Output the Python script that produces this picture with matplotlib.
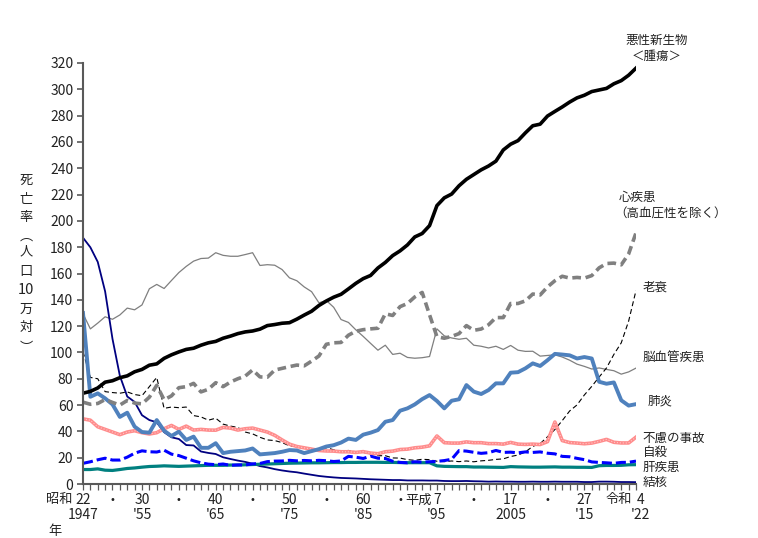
import numpy as np
import matplotlib
matplotlib.use("Agg")
import matplotlib.pyplot as plt

plt.rcParams['font.family'] = ['Noto Sans CJK JP', 'DejaVu Sans']

# 年（1947〜2022）
years = list(range(1947, 2023))

# 死亡率（人口10万対）
cancer = [69.0, 70.4, 73.0, 77.4, 78.5, 80.8, 82.2, 85.3, 87.1, 90.3,
          91.3, 95.5, 98.2, 100.4, 102.3, 103.2, 105.5, 107.3, 108.4, 110.8,
          112.4, 114.3, 115.6, 116.3, 117.7, 120.4, 121.2, 122.2, 122.6, 125.3,
          128.4, 131.3, 135.7, 139.1, 142.0, 144.2, 148.3, 152.5, 156.1, 158.5,
          164.2, 168.4, 173.6, 177.2, 181.7, 187.8, 190.4, 196.4, 211.6, 217.5,
          220.4, 226.7, 231.6, 235.2, 238.8, 241.7, 245.4, 253.9, 258.3, 261.0,
          266.9, 272.3, 273.5, 279.7, 283.2, 286.6, 290.3, 293.5, 295.5, 298.3,
          299.5, 300.7, 304.2, 306.6, 310.7, 316.1]
heart = [62.2, 60.6, 61.2, 64.2, 62.0, 60.0, 63.5, 61.5, 60.9, 66.0,
         75.0, 64.0, 67.0, 73.2, 74.0, 76.5, 70.0, 72.0, 77.0, 74.0,
         77.5, 80.0, 82.0, 86.7, 81.4, 81.2, 86.6, 87.9, 89.2, 90.4,
         89.8, 93.4, 97.3, 106.2, 107.3, 107.6, 113.1, 116.1, 117.3, 117.9,
         118.4, 129.4, 128.1, 134.8, 137.2, 142.2, 145.6, 128.6, 112.0, 110.8,
         112.2, 114.3, 120.4, 116.8, 117.8, 121.0, 126.5, 126.5, 137.2, 137.2,
         139.2, 144.4, 143.7, 149.8, 154.5, 157.9, 156.5, 157.0, 156.5, 158.4,
         164.3, 167.6, 167.9, 166.6, 174.9, 190.9]
senility = [100.6, 81.0, 80.0, 70.2, 69.5, 69.0, 70.0, 68.0, 67.1, 74.0,
            81.0, 57.5, 58.5, 58.0, 58.5, 52.0, 51.0, 48.5, 50.0, 45.5,
            44.0, 43.0, 39.5, 38.1, 35.5, 33.5, 33.0, 31.5, 29.0, 28.5,
            27.5, 27.0, 26.0, 27.6, 26.0, 25.0, 25.5, 24.5, 24.0, 23.0,
            21.5, 21.5, 19.8, 19.7, 18.5, 18.0, 18.8, 18.5, 17.3, 17.0,
            17.5, 17.0, 17.5, 16.9, 17.6, 18.0, 18.7, 19.1, 20.9, 22.0,
            24.4, 28.6, 30.7, 35.9, 41.4, 48.2, 55.5, 60.1, 67.7, 74.2,
            81.3, 88.2, 98.5, 107.3, 123.8, 147.1]
cerebro = [129.4, 117.9, 122.3, 127.1, 125.2, 128.5, 133.7, 132.4, 136.1, 148.4,
           151.7, 148.6, 154.7, 160.7, 165.4, 169.4, 171.4, 171.7, 175.8, 173.8,
           173.1, 173.1, 174.4, 175.8, 166.1, 166.7, 166.3, 163.0, 156.7, 154.5,
           149.8, 146.2, 137.7, 139.5, 134.3, 125.0, 122.8, 117.2, 112.2, 106.9,
           101.7, 105.5, 98.5, 99.4, 96.2, 95.6, 96.0, 96.9, 117.9, 112.6,
           111.0, 110.0, 110.8, 105.5, 104.7, 103.4, 104.7, 102.3, 105.3, 101.7,
           100.8, 100.9, 97.2, 97.7, 98.2, 96.5, 94.1, 91.1, 89.4, 87.4,
           88.2, 87.1, 86.1, 83.5, 85.2, 88.1]
pneumonia = [130.0, 66.3, 68.9, 65.1, 60.5, 51.0, 54.2, 43.6, 39.5, 39.0,
             48.6, 40.5, 36.5, 39.8, 33.5, 36.0, 27.5, 27.5, 31.0, 23.5,
             24.5, 25.0, 25.5, 27.0, 22.5, 23.0, 23.5, 24.5, 25.8, 25.5,
             23.5, 25.0, 26.5, 28.5, 29.5, 31.5, 34.5, 33.5, 37.5, 39.0,
             41.0, 47.3, 48.6, 55.7, 57.5, 60.5, 64.5, 67.6, 63.1, 57.5,
             63.3, 64.4, 75.2, 70.2, 68.4, 71.4, 76.5, 76.5, 84.6, 85.0,
             87.9, 91.7, 89.7, 94.1, 98.9, 98.4, 97.8, 95.4, 96.5, 95.4,
             77.7, 76.2, 77.2, 63.6, 59.6, 60.7]
accident = [49.5, 48.5, 43.5, 41.5, 39.5, 37.5, 39.5, 40.5, 39.0, 38.0,
            39.0, 42.0, 44.5, 41.5, 44.0, 41.0, 41.5, 41.0, 40.9, 43.0,
            42.5, 41.0, 42.0, 42.5, 41.0, 39.5, 37.0, 33.5, 30.3, 28.5,
            27.5, 26.5, 25.5, 25.1, 25.0, 24.5, 24.5, 24.0, 24.6, 23.5,
            23.0, 24.5, 25.0, 26.2, 26.5, 27.5, 28.0, 29.0, 36.5, 31.4,
            31.1, 31.1, 32.0, 31.4, 31.4, 30.7, 30.7, 30.3, 31.6, 30.3,
            30.1, 30.3, 30.0, 32.2, 47.1, 33.0, 31.5, 31.1, 30.6, 31.1,
            32.4, 33.9, 31.7, 31.2, 31.2, 35.6]
suicide = [15.7, 16.9, 18.4, 19.6, 18.2, 18.2, 20.4, 23.4, 25.2, 24.5,
           24.3, 25.7, 22.7, 21.6, 19.6, 17.6, 16.1, 15.1, 14.7, 15.2,
           14.2, 14.5, 14.5, 15.3, 15.6, 17.0, 17.4, 17.5, 18.0, 17.6,
           17.9, 17.6, 18.0, 17.7, 17.1, 17.5, 21.0, 20.4, 19.4, 21.2,
           19.6, 19.4, 17.3, 16.4, 16.1, 16.9, 16.6, 16.9, 17.2, 17.8,
           18.8, 25.4, 25.0, 24.1, 23.3, 23.8, 25.5, 24.0, 24.2, 23.7,
           24.4, 24.0, 24.4, 23.4, 22.9, 21.0, 20.7, 19.5, 18.5, 16.8,
           16.4, 16.1, 15.7, 16.4, 16.5, 17.4]
liver = [11.0, 11.0, 11.5, 10.5, 10.3, 11.0, 11.8, 12.2, 12.8, 13.3,
         13.5, 13.8, 13.6, 13.4, 13.6, 13.8, 14.0, 14.2, 14.2, 14.2,
         14.4, 14.4, 14.6, 14.8, 15.0, 15.2, 15.4, 15.6, 15.8, 15.9,
         16.0, 16.1, 16.1, 16.2, 16.3, 16.3, 16.4, 16.4, 16.5, 16.5,
         16.5, 16.4, 16.4, 16.3, 16.2, 16.2, 16.2, 16.2, 13.8, 13.4,
         13.3, 13.2, 13.2, 12.9, 12.9, 12.8, 12.7, 12.6, 13.2, 13.0,
         12.9, 12.8, 12.8, 12.9, 13.0, 12.8, 12.8, 12.7, 12.7, 12.6,
         13.9, 14.1, 14.1, 14.2, 14.6, 14.7]
tb = [187.2, 179.9, 168.8, 146.4, 110.3, 82.2, 66.5, 62.4, 52.3, 48.6,
      46.9, 39.4, 35.5, 34.2, 29.6, 29.3, 24.7, 23.6, 22.8, 20.3,
      19.0, 17.8, 16.8, 15.4, 13.6, 12.6, 11.3, 10.3, 9.5, 8.9,
      7.9, 7.0, 6.1, 5.5, 5.0, 4.6, 4.4, 4.2, 3.9, 3.6,
      3.4, 3.2, 3.0, 3.0, 2.7, 2.7, 2.7, 2.6, 2.6, 2.3,
      2.2, 2.2, 2.3, 2.1, 2.0, 1.8, 1.9, 1.8, 1.8, 1.7,
      1.7, 1.8, 1.7, 1.7, 1.8, 1.7, 1.7, 1.7, 1.5, 1.5,
      1.8, 1.8, 1.7, 1.5, 1.5, 1.4]

# 目盛ラベル（元号年・西暦）
era_labels = [(1947, '22', '1947'), (1955, '30', "'55"), (1965, '40', "'65"),
              (1975, '50', "'75"), (1985, '60', "'85"), (1995, '7', "'95"),
              (2005, '17', '2005'), (2015, '27', "'15"), (2022.6, '4', "'22")]
dot_years = [1951, 1960, 1970, 1980, 1990, 2000, 2010]

fig = plt.figure(figsize=(7.58, 5.38), dpi=100)
ax = fig.add_axes([83 / 758, 54 / 538, (636 - 83) / 758, (484 - 63) / 538])

ax.plot(years, cerebro, color='#7f7f7f', lw=0.9)
ax.plot(years, tb, color='#000080', lw=1.3)
ax.plot(years, senility, color='black', lw=0.8, dashes=(4.5, 2.7))
ax.plot(years, liver, color='#008080', lw=2.3)
ax.plot(years, suicide, color='#0000ff', lw=2.2, dashes=(3.3, 1.3))
ax.plot(years, accident, color='#ff8c8c', lw=2.6)
ax.plot(years, accident, color='#ffc8c8', lw=0.8, ls=':')
ax.plot(years, pneumonia, color='#4f81bd', lw=2.8)
ax.plot(years, heart, color='#808080', lw=2.6, dashes=(2.4, 1.3))
ax.plot(years, cancer, color='black', lw=2.6)

ax.set_xlim(1947, 2022)
ax.set_ylim(0, 320)
ax.set_yticks(range(0, 321, 20))
ax.set_xticks(years)
ax.set_xticklabels([])
for s in ['top', 'right']:
    ax.spines[s].set_visible(False)
for s in ['left', 'bottom']:
    ax.spines[s].set_color('#595959')
    ax.spines[s].set_linewidth(1.5)
ax.tick_params(axis='y', length=4, width=1.2, color='#595959', labelsize=10, labelcolor='#222222', pad=3)
ax.tick_params(axis='x', length=4, width=0.9, color='#595959')

# x軸ラベル（元号／西暦）
tr = ax.get_xaxis_transform()
txt = dict(transform=tr, va='center', fontsize=10, color='#222222', clip_on=False)
for x, top, bottom in era_labels:
    ax.text(x, -0.038, top, ha='center', **txt)
    ax.text(x, -0.074, bottom, ha='center', **txt)
for x in dot_years:
    ax.text(x, -0.038, '•', ha='center', transform=tr, va='center', fontsize=7,
            color='#222222', family='DejaVu Sans')
era = dict(transform=tr, va='center', fontsize=9.5, color='#222222')
ax.text(1945.6, -0.038, '昭和', ha='right', **era)
ax.text(1994.3, -0.038, '平成', ha='right', **era)
ax.text(2021.5, -0.038, '令和', ha='right', **era)
ax.text(1943.2, -0.112, '年', ha='center', **era)

# 系列ラベル
lab = dict(fontsize=9, color='#222222', clip_on=False, va='center')
ax.text(2024.8, 337.5, '悪性新生物', ha='center', **lab)
ax.text(2024.8, 325.3, '＜腫瘍＞', ha='center', **lab)
ax.text(2019.6, 217.4, '心疾患', ha='left', **lab)
ax.text(2019.0, 205.2, '（高血圧性を除く）', ha='left', **lab)
ax.text(2022.9, 149.7, '老衰', ha='left', **lab)
ax.text(2022.9, 96.5, '脳血管疾患', ha='left', **lab)
ax.text(2023.6, 63.1, '肺炎', ha='left', **lab)
ax.text(2022.9, 35.0, '不慮の事故', ha='left', **lab)
ax.text(2022.9, 23.6, '自殺', ha='left', **lab)
ax.text(2022.9, 12.9, '肝疾患', ha='left', **lab)
ax.text(2022.9, 0.8, '結核', ha='left', **lab)

# 縦書きのy軸ラベル
ylab = [('死', 180), ('亡', 199), ('率', 217), ('︵', 236), ('人', 252),
        ('口', 271), ('10', 290), ('万', 309), ('対', 327), ('︶', 348)]
for ch, py in ylab:
    fs = 10.5 if ch == '10' else 9.5
    fig.text(26 / 758, 1 - py / 538, ch, ha='center', va='center', fontsize=fs, color='#222222')

fig.savefig('out.png', dpi=100)
